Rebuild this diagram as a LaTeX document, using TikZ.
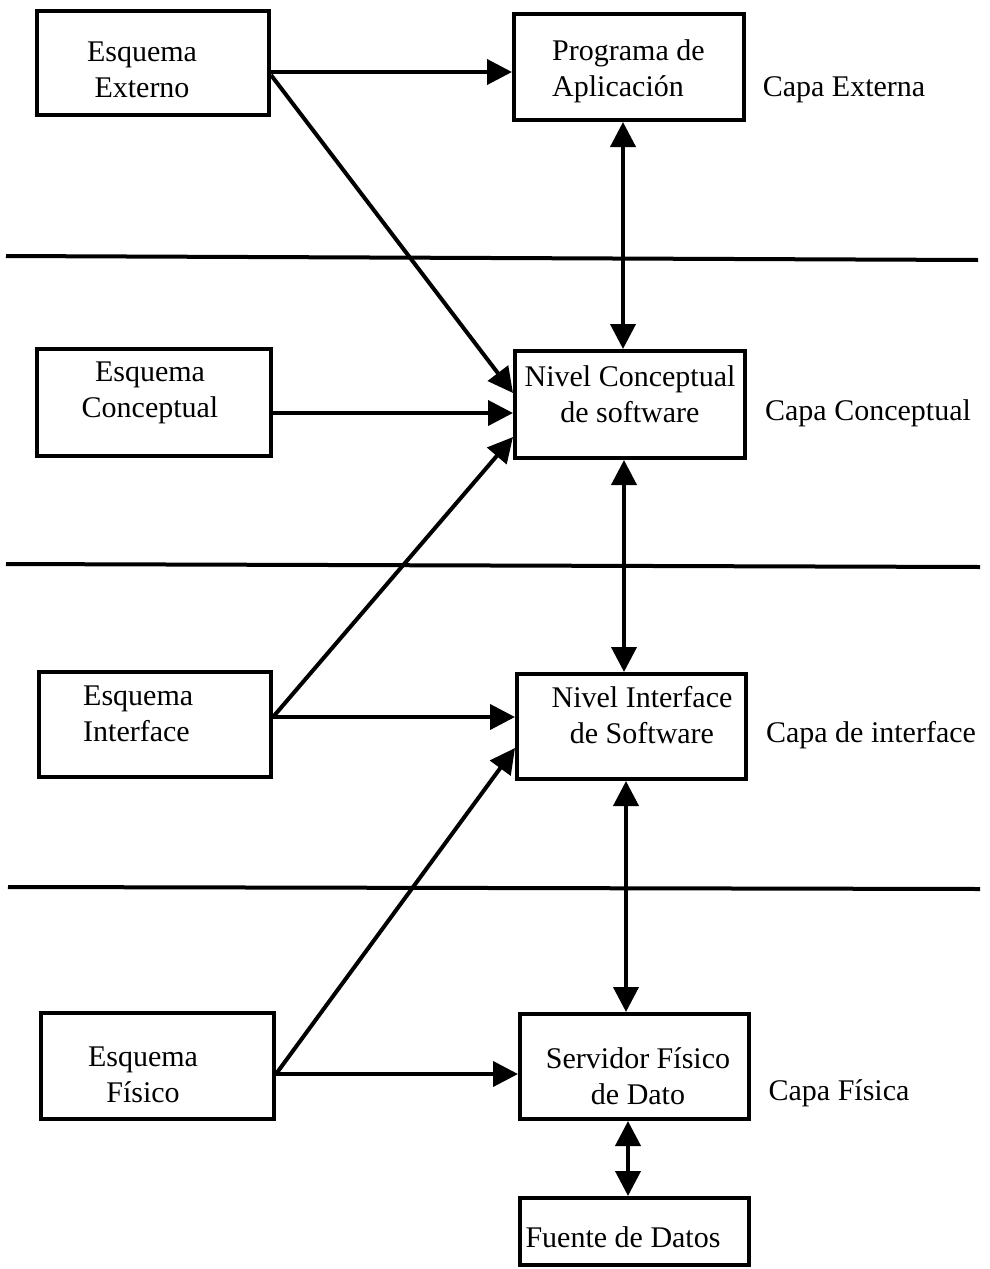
\documentclass[tikz,border=0pt]{standalone}
\usepackage{fontspec}
\setmainfont{Liberation Serif}
\usetikzlibrary{arrows.meta}
\begin{document}
\begin{tikzpicture}[x=1pt,y=-1pt,
  box/.style={draw,line width=4pt,minimum width=#1,inner sep=0pt},
  txt/.style={inner sep=0pt,font=\fontsize{30}{36}\selectfont,align=center},
  txtl/.style={inner sep=0pt,font=\fontsize{30}{36}\selectfont,align=left,anchor=west},
  sep/.style={line width=4pt},
  arr/.style={line width=4pt,-{Triangle[length=25pt,width=25pt]}},
  darr/.style={line width=4pt,{Triangle[length=25pt,width=25pt]}-{Triangle[length=25pt,width=25pt]}}]
\useasboundingbox (0,0) rectangle (989,1269);
\fill[white] (0,0) rectangle (989,1269);
% layer separators
\draw[sep] (6,256) -- (978,260);
\draw[sep] (6,564) -- (980,567);
\draw[sep] (8,887) -- (980,889);
% boxes
\node[box=232pt,minimum height=104pt] (e1) at (153,63) {};
\node[box=234pt,minimum height=107pt] (e2) at (154,402.5) {};
\node[box=232pt,minimum height=105pt] (e3) at (155,724.5) {};
\node[box=233pt,minimum height=106pt] (e4) at (157.5,1066) {};
\node[box=230pt,minimum height=106pt] (r1) at (629,67) {};
\node[box=230pt,minimum height=107pt] (r2) at (630,404.5) {};
\node[box=229pt,minimum height=105pt] (r3) at (631.5,726.5) {};
\node[box=229pt,minimum height=105pt] (r4) at (634.5,1066.5) {};
\node[box=229pt,minimum height=67pt] (r5) at (634.5,1231.5) {};
% texts
\node[txt] (t1) at (142,70) {Esquema\\Externo};
\node[txt] (t2) at (150,393) {Esquema\\Conceptual};
\node[txtl] (t3) at (83,714) {Esquema\\Interface};
\node[txt] (t4) at (143,1075) {Esquema\\Físico};
\node[txtl] (t5) at (552,71) {Programa de\\Aplicación};
\node[txt] (t6) at (630,394) {Nivel Conceptual\\de software};
\node[txt] (t7) at (642,715) {Nivel Interface\\de Software};
\node[txt] (t8) at (638,1076) {Servidor Físico\\de Dato};
\node[txt] (t9) at (623,1237) {Fuente de Datos};
\node[txt] (l1) at (844,90) {Capa Externa};
\node[txt] (l2) at (868,413) {Capa Conceptual};
\node[txt] (l3) at (871,735) {Capa de interface};
\node[txt] (l4) at (839,1093) {Capa Física};
% connector anchor points
\coordinate (a1) at ([yshift=-9pt]e1.east);
\coordinate (a1d) at ([yshift=-12pt]e1.east);
\coordinate (a2) at ([yshift=-10.5pt]e2.east);
\coordinate (a3) at ([yshift=7.5pt]e3.east);
\coordinate (a4) at ([yshift=-8pt]e4.east);
\coordinate (b2u) at ([yshift=11.5pt]r2.west);
\coordinate (b2d) at ([yshift=-32.5pt]r2.west);
\coordinate (b3d) at ([yshift=-21.5pt]r3.west);
\coordinate (v1) at ([xshift=-6pt]r1.south);
\coordinate (v2) at ([xshift=-6pt]r2.south);
\coordinate (v3) at ([xshift=-5.5pt]r3.south);
\coordinate (v4) at ([xshift=-6.5pt]r4.south);
% arrows
\draw[arr] (a1) -- (a1 -| r1.west);
\draw[arr] (a1d) -- (b2u);
\draw[arr] (a2) -- (a2 -| r2.west);
\draw[arr] (a3) -- (b2d);
\draw[arr] (a3) -- (a3 -| r3.west);
\draw[arr] (a4) -- (b3d);
\draw[arr] (a4) -- (a4 -| r4.west);
\draw[darr] (v1) -- (v1 |- r2.north);
\draw[darr] (v2) -- (v2 |- r3.north);
\draw[darr] (v3) -- (v3 |- r4.north);
\draw[darr] (v4) -- (v4 |- r5.north);
\end{tikzpicture}
\end{document}
